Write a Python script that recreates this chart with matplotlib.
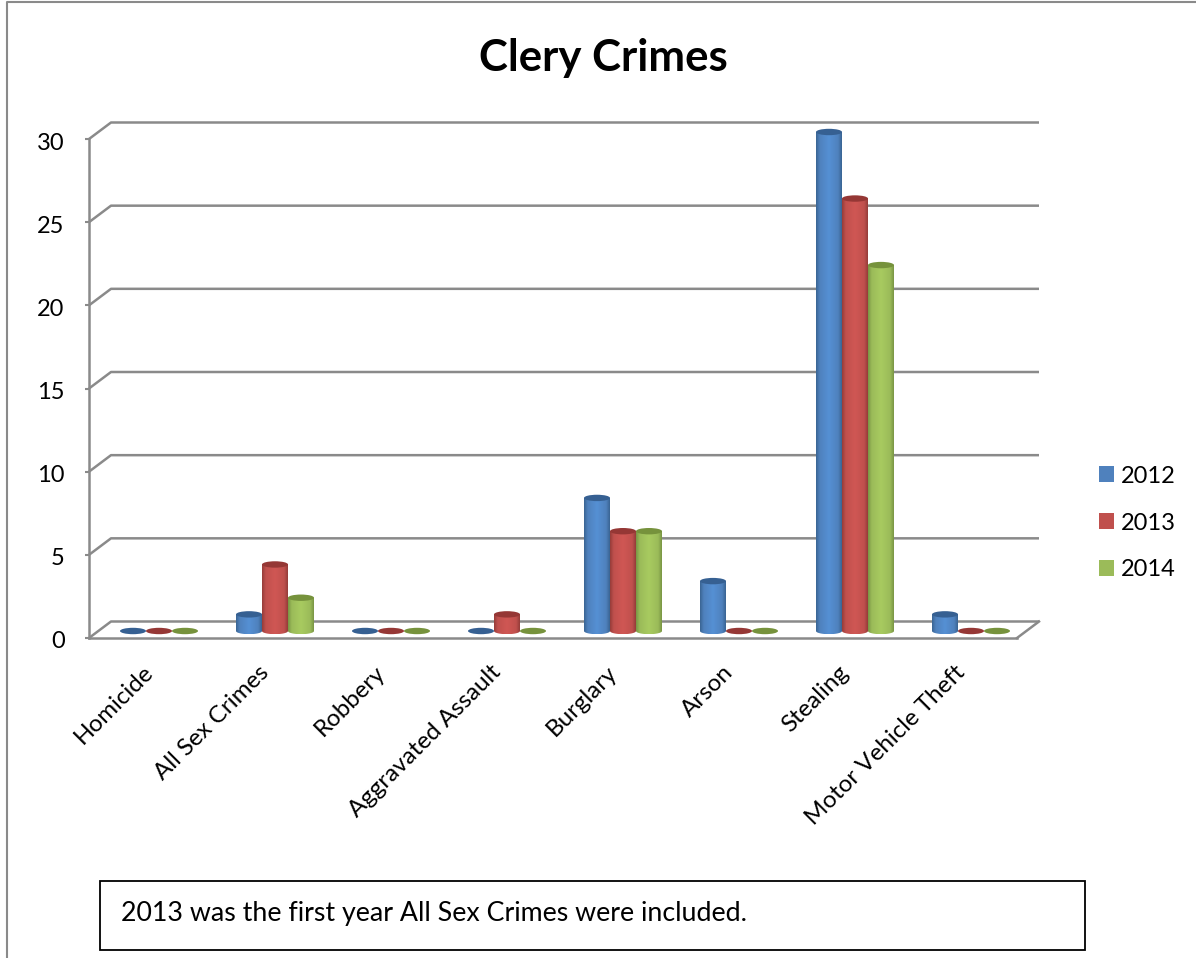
import numpy as np
import matplotlib
matplotlib.use("Agg")
import matplotlib.pyplot as plt
from matplotlib.patches import Ellipse, Rectangle, PathPatch
from matplotlib.path import Path
from matplotlib.colors import LinearSegmentedColormap
from matplotlib.transforms import ScaledTranslation

categories = ["Homicide", "All Sex Crimes", "Robbery", "Aggravated Assault",
              "Burglary", "Arson", "Stealing", "Motor Vehicle Theft"]
years = ["2012", "2013", "2014"]
v2012 = [0, 1, 0, 0, 8, 3, 30, 1]
v2013 = [0, 4, 0, 1, 6, 0, 26, 0]
v2014 = [0, 2, 0, 0, 6, 0, 22, 0]
series = [v2012, v2013, v2014]
yticks = [0, 5, 10, 15, 20, 25, 30]

base = ["#4F81BD", "#C0504D", "#9BBB59"]
dark = ["#366092", "#953735", "#76923C"]
edge = ["#3A6594", "#963D3A", "#7A9645"]
light = ["#5590D4", "#D05754", "#A8CB60"]

plt.rcParams["font.family"] = ["Lato", "DejaVu Sans"]
W, H = 1196, 958
fig = plt.figure(figsize=(W / 100, H / 100), dpi=100, facecolor="white")

# full-figure layer for page furniture
bg = fig.add_axes([0, 0, 1, 1], zorder=0)
bg.set_xlim(0, W); bg.set_ylim(H, 0); bg.axis("off")
bg.plot([6.5, 6.5, W], [H, 1.5, 1.5], color="#8A8A8A", lw=1.5, clip_on=False)
bg.add_patch(Rectangle((100, 881), 985, 69, fc="white", ec="black", lw=1.3))
bg.text(121, 914, "2013 was the first year All Sex Crimes were included.",
        fontsize=19.3, va="center", ha="left", color="black")
bg.text(603.5, 58, "Clery Crimes", fontsize=31.5, fontweight="bold",
        ha="center", va="center", color="black")

L, R, T, B = 89, 1017, 139, 638
sy = (B - T) / 30
ymax = 33
ax = fig.add_axes([L / W, 1 - B / H, (R - L) / W, ymax * sy / H], zorder=1)
ax.patch.set_alpha(0)
ax.set_xlim(-0.5, 7.5)
ax.set_ylim(0, ymax)
sx = (R - L) / 8
gray = "#8A8A8A"
LW = 1.8
for s in ("top", "right"):
    ax.spines[s].set_visible(False)
for s in ("left", "bottom"):
    ax.spines[s].set_color(gray)
    ax.spines[s].set_linewidth(LW)
ax.spines["left"].set_bounds(0, 30)

# depth of the pseudo-3D box
dx, dy = 22 / sx, 16.5 / sy
for t in yticks:
    ax.plot([-0.5, -0.5 + dx, 7.5 + dx], [t, t + dy, t + dy], color=gray, lw=LW,
            clip_on=False, zorder=1, solid_capstyle="butt")
ax.plot([7.5, 7.5 + dx], [0, dy], color=gray, lw=LW, clip_on=False, zorder=1)

ax.set_yticks(yticks)
ax.tick_params(axis="y", length=3, width=1.5, color=gray, labelsize=17, pad=14.5)
ytrans = ScaledTranslation(0, -2 / 100, fig.dpi_scale_trans)
for lbl in ax.get_yticklabels():
    lbl.set_transform(lbl.get_transform() + ytrans)
ax.set_xticks(range(len(categories)))
ax.set_xticklabels(categories, rotation=45, ha="right", rotation_mode="anchor",
                   fontsize=17.4)
ax.tick_params(axis="x", length=0, pad=17)
xtrans = ScaledTranslation(-5 / 100, 0, fig.dpi_scale_trans)
for lbl in ax.get_xticklabels():
    lbl.set_transform(lbl.get_transform() + xtrans)

# cylinders
width = 26 / sx
rh = 3.2 / sy           # ellipse half height
off0x, off0y = 12 / sx, 7 / sy
grad_pos = [0, 0.14, 0.5, 0.86, 1]
theta = np.linspace(np.pi, 2 * np.pi, 40)
for k, vals in enumerate(series):
    cmap = LinearSegmentedColormap.from_list(
        "c%d" % k, list(zip(grad_pos, [edge[k], base[k], light[k], base[k], edge[k]])))
    xs = np.arange(len(categories)) + off0x + (k - 1) * width
    bars = ax.bar(xs, vals, width=width, bottom=off0y, color=base[k], label=years[k],
                  zorder=3 + k)
    for x, v in zip(xs, vals):
        if v == 0:
            ax.add_patch(Ellipse((x, off0y), width, 2 * rh, fc=dark[k], ec="none",
                                 zorder=3 + k))
            continue
        top = off0y + v
        left, right = x - width / 2, x + width / 2
        px = np.r_[x + width / 2 * np.cos(theta), right, left]
        py = np.r_[off0y + rh * np.sin(theta), top, top]
        clip = Path(np.c_[px, py])
        im = ax.imshow(np.linspace(0, 1, 64)[None, :], cmap=cmap, aspect="auto",
                       extent=[left, right, off0y - rh, top], zorder=3 + k + 0.1,
                       interpolation="bilinear")
        im.set_clip_path(PathPatch(clip, transform=ax.transData))
        ax.add_patch(Ellipse((x, top), width, 2 * rh, fc=dark[k], ec="none",
                             zorder=3 + k + 0.2))
ax.set_xlim(-0.5, 7.5)
ax.set_ylim(0, ymax)

handles, labels = ax.get_legend_handles_labels()
ax.legend(handles, labels, loc="center left", frameon=False, fontsize=17,
          bbox_to_anchor=((1099 - L) / (R - L), (B - 523) / (ymax * sy)),
          handlelength=0.64, handleheight=0.64, handletextpad=0.27,
          labelspacing=1.1, borderpad=0, borderaxespad=0)

fig.savefig("out.png", dpi=100, facecolor="white")
